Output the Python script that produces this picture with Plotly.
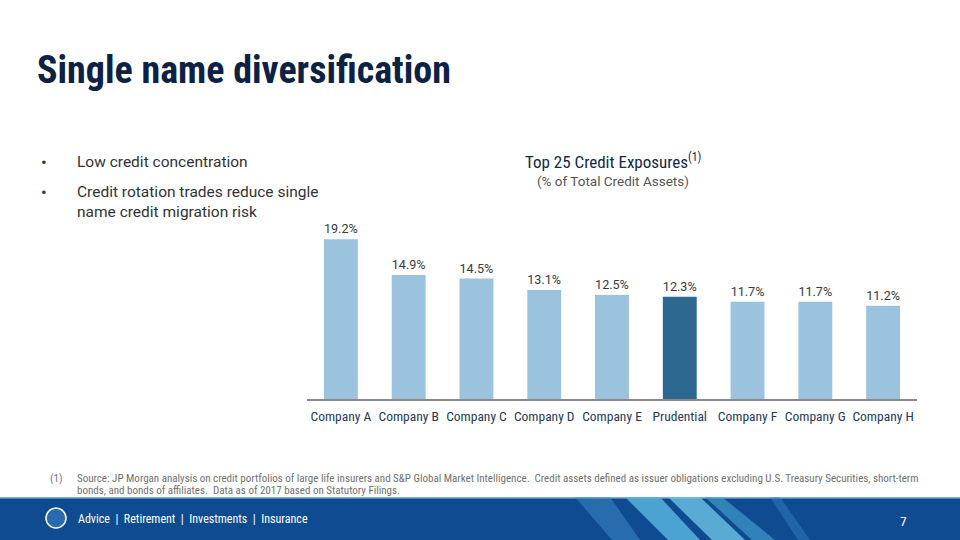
import plotly.graph_objects as go

companies = ["Company A", "Company B", "Company C", "Company D", "Company E",
             "Prudential", "Company F", "Company G", "Company H"]
exposure_pct = [19.2, 14.9, 14.5, 13.1, 12.5, 12.3, 11.7, 11.7, 11.2]
highlight = "Prudential"

LIGHT = "#9BC3DE"
DARK = "#2C6890"
colors = [DARK if c == highlight else LIGHT for c in companies]

COND = "Roboto Condensed, Roboto, sans-serif"
REG = "Roboto, sans-serif"

W, H = 960, 540
def px(x):
    return x / W
def py(y):
    return 1 - y / H

fig = go.Figure()
fig.add_trace(go.Bar(
    x=companies, y=exposure_pct,
    marker=dict(color=colors, line=dict(width=0)),
    width=0.5,
    texttemplate="%{y:.1f}%", textposition="outside",
    textfont=dict(family=REG, size=13.5, color="#3a3a3a"),
    cliponaxis=False,
    hoverinfo="skip",
))

fig.update_layout(
    width=W, height=H,
    margin=dict(l=0, r=0, t=0, b=0),
    paper_bgcolor="white", plot_bgcolor="white",
    showlegend=False,
    bargap=0.5,
    xaxis=dict(domain=[px(307), px(917)], showline=True, linecolor="#8a8a8a",
               linewidth=1.5, showgrid=False, ticks="", zeroline=False,
               ticklabelstandoff=4,
               tickfont=dict(family=COND, size=13.5, color="#1f3a5c"),
               fixedrange=True),
    yaxis=dict(domain=[py(399), py(216)], range=[0, 22], visible=False,
               showgrid=False, zeroline=False, fixedrange=True),
)

shapes = []
# footer band
shapes.append(dict(type="rect", xref="paper", yref="paper", x0=0, x1=1,
                   y0=0, y1=py(497), fillcolor="#0F4B91", line=dict(width=0), layer="below"))
shapes.append(dict(type="rect", xref="paper", yref="paper", x0=0, x1=1,
                   y0=py(498.5), y1=py(497), fillcolor="#7FB3D8", line=dict(width=0), layer="below"))
# decorative light streaks
streaks = [
    (625, 660, 700, 668, "#56B3DC", 0.85),
    (668, 700, 745, 712, "#6CC3E4", 0.8),
    (705, 722, 775, 752, "#4AA6D6", 0.6),
    (575, 610, 640, 612, "#3F8FCB", 0.5),
    (770, 780, 810, 798, "#3D8ACB", 0.4),
]
for a, b, c, d, col, op in streaks:
    path = f"M {px(a)} {py(497)} L {px(b)} {py(497)} L {px(c)} 0 L {px(d)} 0 Z"
    shapes.append(dict(type="path", xref="paper", yref="paper", path=path,
                       fillcolor=col, opacity=op, line=dict(width=0), layer="below"))
# logo circle
shapes.append(dict(type="circle", xref="paper", yref="paper",
                   x0=px(46), x1=px(66), y0=py(528), y1=py(508),
                   line=dict(color="white", width=1.5), fillcolor="#2A6AAE"))
fig.update_layout(shapes=shapes)

ann = []
ann.append(dict(text="<b>Single name diversification</b>", x=px(35), y=py(70),
                xref="paper", yref="paper", xanchor="left", yanchor="middle",
                showarrow=False,
                font=dict(family=COND, size=38, color="#0C2144")))
for yb in (162, 192):
    ann.append(dict(text="•", x=px(39), y=py(yb), xref="paper", yref="paper",
                    xanchor="left", yanchor="middle", showarrow=False,
                    font=dict(family=REG, size=17, color="#333333")))
ann.append(dict(text="Low credit concentration", x=px(75), y=py(162), xref="paper", yref="paper",
                xanchor="left", yanchor="middle", showarrow=False,
                font=dict(family=REG, size=15.5, color="#333333")))
ann.append(dict(text="Credit rotation trades reduce single<br>name credit migration risk",
                x=px(75), y=py(192), xref="paper", yref="paper",
                xanchor="left", yanchor="top", yshift=11, align="left", showarrow=False,
                font=dict(family=REG, size=15.5, color="#333333")))
ann.append(dict(text="Top 25 Credit Exposures<sup>(1)</sup>", x=px(613), y=py(161),
                xref="paper", yref="paper", xanchor="center", yanchor="middle",
                showarrow=False,
                font=dict(family=COND, size=17, color="#14284a")))
ann.append(dict(text="(% of Total Credit Assets)", x=px(613), y=py(181),
                xref="paper", yref="paper", xanchor="center", yanchor="middle",
                showarrow=False,
                font=dict(family=REG, size=13.5, color="#555555")))
ann.append(dict(text="(1)", x=px(48), y=py(478.5), xref="paper", yref="paper",
                xanchor="left", yanchor="middle", showarrow=False,
                font=dict(family=COND, size=11, color="#707070")))
foot_lines = [
    "Source: JP Morgan analysis on credit portfolios of large life insurers and S&amp;P Global Market Intelligence.  "
    "Credit assets defined as issuer obligations excluding U.S. Treasury Securities, short-term",
    "bonds, and bonds of affiliates.  Data as of 2017 based on Statutory Filings.",
]
for i, line in enumerate(foot_lines):
    ann.append(dict(text=line, x=px(75), y=py(478 + 12.5 * i), xref="paper", yref="paper",
                    xanchor="left", yanchor="middle", align="left", showarrow=False,
                    font=dict(family=COND, size=11, color="#707070")))
ann.append(dict(text="Advice  |  Retirement  |  Investments  |  Insurance", x=px(76), y=py(519),
                xref="paper", yref="paper", xanchor="left", yanchor="middle",
                showarrow=False, font=dict(family=COND, size=12, color="white")))
ann.append(dict(text="7", x=px(903), y=py(521), xref="paper", yref="paper",
                xanchor="center", yanchor="middle", showarrow=False,
                font=dict(family=COND, size=13.5, color="white")))
fig.update_layout(annotations=ann)

fig.write_html("out.html", post_script="document.body.style.margin='0';",
               config={"displayModeBar": False})
